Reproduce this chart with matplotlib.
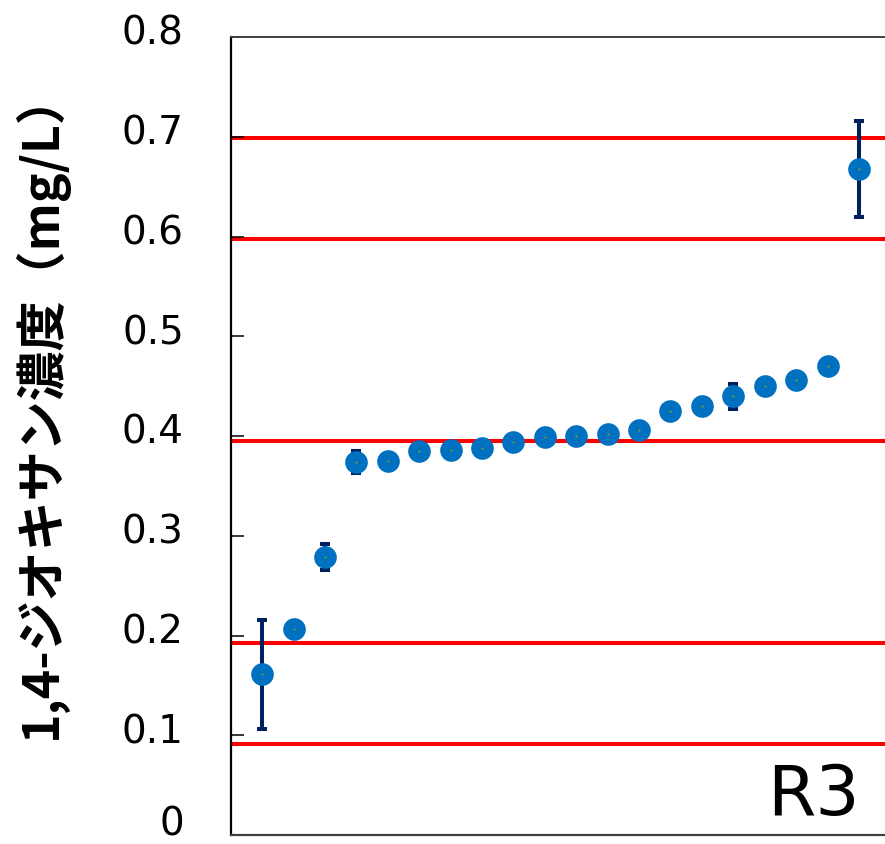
import numpy as np
import matplotlib.pyplot as plt
from matplotlib.transforms import ScaledTranslation

plt.rcParams['font.family'] = ['DejaVu Sans']

# lab results sorted by concentration (mg/L) with their standard deviations
labs = np.arange(1, 21)
conc = [0.161, 0.207, 0.279, 0.374, 0.375, 0.385, 0.386, 0.388, 0.394, 0.399,
        0.400, 0.402, 0.406, 0.425, 0.430, 0.440, 0.450, 0.456, 0.470, 0.668]
err = [0.055, 0.0, 0.013, 0.011, 0.0, 0.0, 0.0, 0.0, 0.0, 0.0,
       0.0, 0.0, 0.0, 0.0, 0.0, 0.0125, 0.0, 0.0, 0.0, 0.048]
ref_lines = [0.091, 0.192, 0.395, 0.597, 0.699]
yticks = [0, 0.1, 0.2, 0.3, 0.4, 0.5, 0.6, 0.7, 0.8]
ylabel = '1,4-ジオキサン濃度（mg/L）'
panel = 'R3'

fig = plt.figure(figsize=(8.85, 8.44), dpi=100)
ax = fig.add_axes([231 / 885, 9 / 844, 1 - 231 / 885, 798 / 844])

for v in ref_lines:
    ax.axhline(v, color='#ff0000', lw=2.9, zorder=1)

has_err = np.array(err) > 0
ax.errorbar(labs[has_err], np.array(conc)[has_err], yerr=np.array(err)[has_err],
            fmt='none', ecolor='#002060', elinewidth=2.9, capsize=3.8,
            capthick=2.9, zorder=2)
ax.plot(labs, conc, 'o', color='#0070c0', ms=16.3, mec='none', zorder=3)
ax.plot(labs, conc, 'o', color='#70a030', ms=1.6, mec='none', zorder=4)

ax.set_xlim(0.01, 20.83)
ax.set_ylim(0, 0.8)
ax.set_yticks(yticks)
ax.set_yticklabels(['0' if t == 0 else f'{t:.1f}' for t in yticks])
ax.set_xticks([])
ax.tick_params(axis='y', direction='in', length=9.5, width=1.1,
               labelsize=28, pad=34)

# tick labels sit a little above their ticks; the zero a bit more
for i, lab in enumerate(ax.get_yticklabels()):
    dy = 0.15 if i == 0 else 0.07
    lab.set_transform(lab.get_transform()
                      + ScaledTranslation(0, dy, fig.dpi_scale_trans))

ax.spines['right'].set_visible(False)
ax.spines['left'].set_linewidth(1.6)
ax.spines['top'].set_color('#404040')
ax.spines['top'].set_linewidth(1.4)
ax.spines['bottom'].set_color('#404040')
ax.spines['bottom'].set_linewidth(1.6)

ax.text(0.962, 0.025, panel, transform=ax.transAxes, ha='right', va='baseline',
        fontsize=50)

fig.text(40 / 885, 1 - 404 / 844, ylabel, rotation=90, ha='center', va='center',
         fontsize=36, fontweight='bold',
         family=['Noto Sans CJK JP', 'DejaVu Sans'])

fig.savefig('out.png', dpi=100)
